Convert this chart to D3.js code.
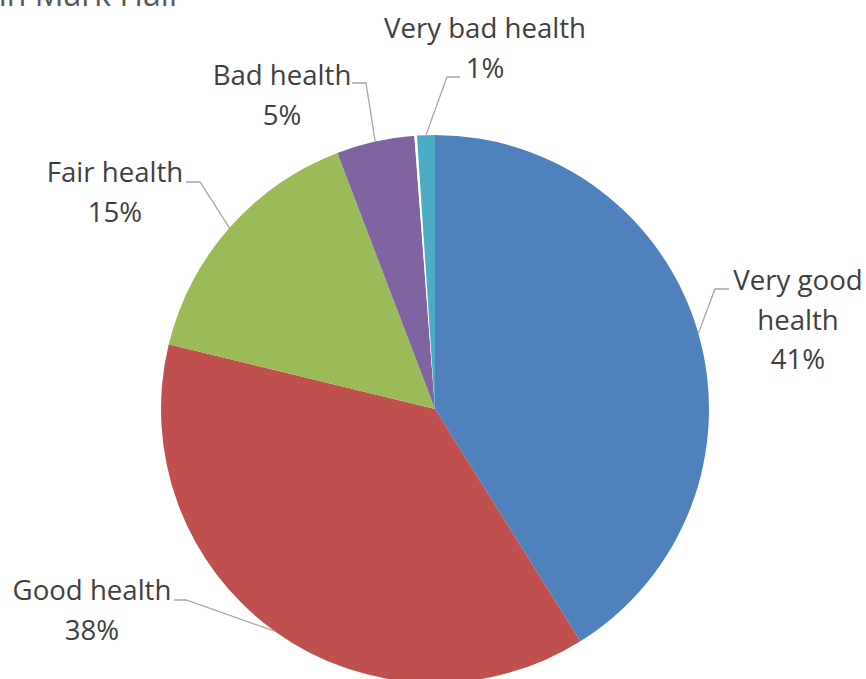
<!DOCTYPE html>
<html>
<head>
<meta charset="utf-8">
<script src="https://cdn.jsdelivr.net/npm/d3@7"></script>
<style>
  html, body { margin: 0; padding: 0; background: #fff; }
  svg { display: block; }
</style>
</head>
<body>
<svg id="chart" width="866" height="679"></svg>
<script>
// ---- data ----
const categories = ["Very good health", "Good health", "Fair health", "Bad health", "Not stated", "Very bad health"];
const values = [41.1, 37.7, 15.4, 4.6, 0.15, 1.05];
const colors = ["#4F81BD", "#C0504D", "#9BBB59", "#8064A2", "#FFFFFF", "#4BACC6"];
const labelLines = [["Very good", "health"], ["Good health"], ["Fair health"], ["Bad health"], null, ["Very bad health"]];
const titleText = "Self-reported general health in Mark Hall";

// ---- layout (label anchors: text centre x, first baseline y; elbow of leader) ----
const layout = {
  cx: 435, cy: 409, r: 274,
  labels: [
    { x: 798, y: 290, elbow: [715, 289], end: [729, 289] },
    { x: 92,  y: 600, elbow: [186, 600], end: [174, 600] },
    { x: 115, y: 182, elbow: [200, 182], end: [186, 182] },
    { x: 282, y: 85,  elbow: [366, 83],  end: [352, 83] },
    null,
    { x: 485, y: 38,  elbow: [447, 77],  end: [460, 77] }
  ]
};

const svg = d3.select("#chart");
const total = d3.sum(values);
const data = categories.map((c, i) => ({ name: c, value: values[i], color: colors[i], lines: labelLines[i], lab: layout.labels[i] }));

// title (cut off at the top of the picture, as in the reference)
svg.append("text")
  .attr("x", 177).attr("y", 6)
  .attr("text-anchor", "end")
  .attr("font-family", "'Open Sans', sans-serif")
  .attr("font-size", 32)
  .attr("fill", "#595959")
  .text(titleText);

const pie = d3.pie().value(d => d.value).sort(null);
const arcs = pie(data);
const arc = d3.arc().innerRadius(0).outerRadius(layout.r);
const edge = d3.arc().innerRadius(layout.r).outerRadius(layout.r);

const g = svg.append("g").attr("transform", `translate(${layout.cx},${layout.cy})`);
g.selectAll("path.slice").data(arcs).join("path")
  .attr("class", "slice")
  .attr("d", arc)
  .attr("fill", d => d.data.color);

const fmt = d3.format(".0%");
const labelled = arcs.filter(d => d.data.lines);

// leader lines
svg.selectAll("polyline.leader").data(labelled).join("polyline")
  .attr("class", "leader")
  .attr("fill", "none")
  .attr("stroke", "#A6A6A6")
  .attr("stroke-width", 1.3)
  .attr("points", d => {
    const c = edge.centroid(d);
    const p = [layout.cx + c[0], layout.cy + c[1]];
    return [p, d.data.lab.elbow, d.data.lab.end].map(q => q.join(",")).join(" ");
  });

// labels
const lg = svg.selectAll("text.lbl").data(labelled).join("text")
  .attr("class", "lbl")
  .attr("text-anchor", "middle")
  .attr("font-family", "'Open Sans', sans-serif")
  .attr("font-size", 27.6)
  .attr("fill", "#404040");
lg.each(function(d) {
  const t = d3.select(this);
  const lines = d.data.lines.concat([fmt(d.data.value / total)]);
  lines.forEach((s, i) => {
    t.append("tspan")
      .attr("x", d.data.lab.x)
      .attr("y", d.data.lab.y + i * 39.5)
      .text(s);
  });
});
</script>
</body>
</html>
